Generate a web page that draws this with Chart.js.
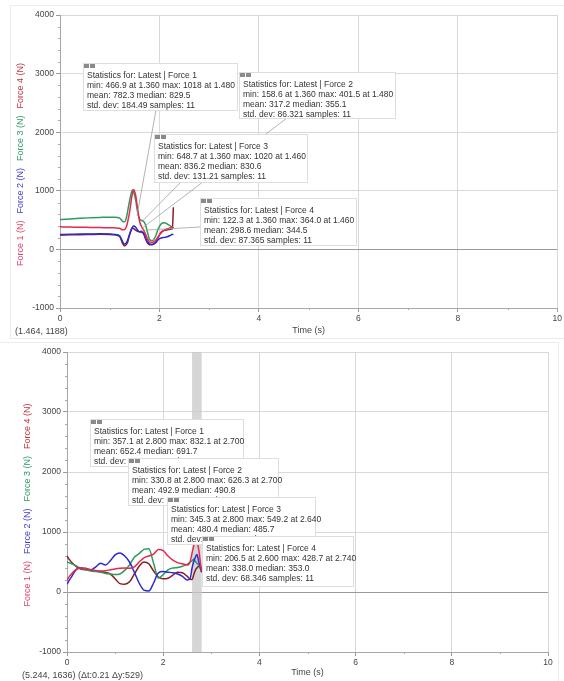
<!DOCTYPE html>
<html>
<head>
<meta charset="utf-8">
<script src="https://cdn.jsdelivr.net/npm/chart.js@4.4.1/dist/chart.umd.min.js"></script>
<style>
  body { margin: 0; background: #fff; }
  #wrap { position: relative; width: 564px; height: 681px; overflow: hidden; }
  .frame { position: absolute; box-sizing: border-box; }
  #f1 { left: 10px; top: 5px; width: 560px; height: 334px; border: 1px solid #ececec; }
  #f2 { left: -5px; top: 342px; width: 564px; height: 345px; border: 1px solid #ececec; }
  canvas { position: absolute; left: 0; }
  #run1 { top: 0; }
  #run2 { top: 340px; }
</style>
</head>
<body>
<div id="wrap">
  <div class="frame" id="f1"></div>
  <div class="frame" id="f2"></div>
  <canvas id="run1" width="564" height="340"></canvas>
  <canvas id="run2" width="564" height="341"></canvas>
</div>
<script>
'use strict';

// series
var seriesNames = ['Force 1', 'Force 2', 'Force 3', 'Force 4'];
var seriesColors = ['#e8284f', '#2a2ad6', '#2e9a5c', '#8c1c24'];
var titleColors = ['#e0406a', '#3b3bd0', '#2f9a6a', '#c4303a'];

// first run (top graph)
var run1Time = [0, 0.2, 0.4, 0.6, 0.8, 1.0, 1.1, 1.2, 1.26, 1.3, 1.34, 1.36, 1.4, 1.44, 1.46, 1.48, 1.52,
  1.56, 1.6, 1.64, 1.68, 1.72, 1.76, 1.8, 1.86, 1.92, 1.98, 2.04, 2.1, 2.16, 2.22, 2.26, 2.28];
var run1Force1 = [385, 382, 378, 375, 372, 370, 368, 360, 335, 340, 400, 467, 640, 880, 960, 1018, 930,
  700, 480, 390, 330, 260, 180, 130, 120, 150, 220, 290, 330, 355, 370, 378, 362];
var run1Force2 = [255, 258, 262, 262, 265, 262, 255, 230, 130, 90, 120, 159, 260, 350, 385, 401, 380,
  330, 300, 300, 280, 200, 130, 95, 85, 110, 170, 195, 205, 215, 240, 258, 250];
var run1Force3 = [510, 520, 530, 538, 545, 550, 550, 535, 480, 470, 560, 649, 830, 980, 1020, 990, 850,
  640, 520, 495, 480, 420, 290, 170, 150, 220, 360, 440, 455, 430, 400, 380, 360];
var run1Force4 = [245, 248, 252, 255, 258, 255, 248, 220, 100, 60, 90, 122, 250, 345, 364, 355, 330,
  310, 300, 295, 270, 180, 110, 80, 85, 120, 220, 300, 325, 335, 345, 350, 720];

// second run (bottom graph)
var run2Time = [0, 0.05, 0.1, 0.2, 0.3, 0.4, 0.5, 0.6, 0.7, 0.8, 0.9, 1.0, 1.1, 1.2, 1.3, 1.4, 1.5, 1.6,
  1.7, 1.8, 1.9, 2.0, 2.1, 2.2, 2.3, 2.4, 2.5, 2.56, 2.6, 2.64, 2.68, 2.7, 2.74, 2.78, 2.8];
var run2Force1 = [200, 260, 310, 380, 400, 390, 370, 360, 350, 355, 370, 385, 395, 400, 395, 420, 500, 570,
  600, 630, 710, 690, 600, 530, 490, 470, 450, 500, 650, 780, 820, 832, 700, 450, 357];
var run2Force2 = [130, 200, 260, 380, 400, 390, 370, 420, 480, 450, 520, 620, 650, 600, 500, 330, 150, 30,
  15, 150, 320, 340, 330, 320, 300, 260, 200, 220, 400, 520, 600, 626, 500, 400, 331];
var run2Force3 = [500, 485, 470, 430, 390, 370, 350, 340, 330, 310, 300, 290, 300, 360, 450, 580, 640, 710,
  720, 480, 230, 290, 370, 400, 410, 430, 460, 500, 520, 549, 500, 480, 450, 380, 345];
var run2Force4 = [600, 540, 490, 420, 380, 370, 360, 350, 340, 325, 300, 220, 140, 130, 170, 300, 430, 500,
  470, 350, 250, 220, 230, 280, 330, 320, 260, 215, 207, 300, 380, 400, 429, 380, 330];
var run2Selection = [2.6, 2.8];

// axes
var timeRange = [0, 10];
var timeStep = 2;
var forceRange = [-1000, 4000];
var forceStep = 1000;

// statistics text
var run1Stats = [
  ['Statistics for: Latest | Force 1', 'min: 466.9 at 1.360 max: 1018 at 1.480', 'mean: 782.3 median: 829.5', 'std. dev: 184.49 samples: 11'],
  ['Statistics for: Latest | Force 2', 'min: 158.6 at 1.360 max: 401.5 at 1.480', 'mean: 317.2 median: 355.1', 'std. dev: 86.321 samples: 11'],
  ['Statistics for: Latest | Force 3', 'min: 648.7 at 1.360 max: 1020 at 1.460', 'mean: 836.2 median: 830.6', 'std. dev: 131.21 samples: 11'],
  ['Statistics for: Latest | Force 4', 'min: 122.3 at 1.360 max: 364.0 at 1.460', 'mean: 298.6 median: 344.5', 'std. dev: 87.365 samples: 11']
];
var run2Stats = [
  ['Statistics for: Latest | Force 1', 'min: 357.1 at 2.800 max: 832.1 at 2.700', 'mean: 652.4 median: 691.7', 'std. dev: 155.32 samples: 11'],
  ['Statistics for: Latest | Force 2', 'min: 330.8 at 2.800 max: 626.3 at 2.700', 'mean: 492.9 median: 490.8', 'std. dev: 98.127 samples: 11'],
  ['Statistics for: Latest | Force 3', 'min: 345.3 at 2.800 max: 549.2 at 2.640', 'mean: 480.4 median: 485.7', 'std. dev: 66.904 samples: 11'],
  ['Statistics for: Latest | Force 4', 'min: 206.5 at 2.600 max: 428.7 at 2.740', 'mean: 338.0 median: 353.0', 'std. dev: 68.346 samples: 11']
];
// where each leader line points (time, force)
var run1LeaderTime = [1.55, 1.67, 1.67, 1.61];
var run1LeaderForce = [580, 375, 494, 324];

var fontFamily = '"Liberation Sans", Arial, sans-serif';
Chart.defaults.font.family = fontFamily;
Chart.defaults.color = '#444';

function points(time, values) {
  return time.map(function (t, i) { return {x: t, y: values[i]}; });
}

function datasets(time, list) {
  return list.map(function (values, i) {
    return {
      label: seriesNames[i],
      data: points(time, values),
      borderColor: seriesColors[i],
      borderWidth: 1.5,
      pointRadius: 0,
      fill: false,
      cubicInterpolationMode: 'monotone'
    };
  });
}

function plain(v) { return String(v); }

function scales(yWidth, xHeight) {
  return {
    x: {
      type: 'linear', min: timeRange[0], max: timeRange[1],
      ticks: {stepSize: timeStep, padding: 2, maxRotation: 0, font: {size: 8.5}, color: '#444', callback: plain},
      grid: {color: '#d9d9d9', tickColor: '#999', tickLength: 4},
      border: {color: '#a8a8a8'},
      afterFit: function (s) { s.height = xHeight; }
    },
    y: {
      type: 'linear', min: forceRange[0], max: forceRange[1],
      ticks: {stepSize: forceStep, padding: 2, font: {size: 8.5}, color: '#444', callback: plain},
      grid: {
        color: function (c) { return c.tick && c.tick.value === 0 ? '#9a9a9a' : '#d9d9d9'; },
        tickColor: '#999', tickLength: 4
      },
      border: {color: '#a8a8a8'},
      afterFit: function (s) { s.width = yWidth; }
    }
  };
}

// extra drawing: minor ticks, axis titles, selection band, stats boxes
function decor(cfg) {
  return {
    id: 'decor',
    beforeDatasetsDraw: function (chart) {
      var ctx = chart.ctx, a = chart.chartArea, sx = chart.scales.x, sy = chart.scales.y;
      ctx.save();
      if (cfg.band) {
        var b0 = sx.getPixelForValue(cfg.band[0]), b1 = sx.getPixelForValue(cfg.band[1]);
        ctx.fillStyle = 'rgba(200,200,200,0.75)';
        ctx.fillRect(b0, a.top, b1 - b0, a.bottom - a.top);
      }
      ctx.strokeStyle = '#aaa';
      ctx.lineWidth = 1;
      ctx.beginPath();
      for (var v = forceRange[0]; v <= forceRange[1]; v += 200) {
        if (v % forceStep === 0) continue;
        var py = Math.round(sy.getPixelForValue(v)) + 0.5;
        ctx.moveTo(a.left - 2, py); ctx.lineTo(a.left, py);
      }
      for (var t = timeRange[0] + 1; t < timeRange[1]; t += 2) {
        var px = Math.round(sx.getPixelForValue(t)) + 0.5;
        ctx.moveTo(px, a.bottom); ctx.lineTo(px, a.bottom + 2);
      }
      ctx.stroke();
      ctx.restore();
    },
    afterDatasetsDraw: function (chart) {
      var ctx = chart.ctx, a = chart.chartArea, sx = chart.scales.x, sy = chart.scales.y;
      ctx.save();
      ctx.font = '9px ' + fontFamily;
      ctx.textBaseline = 'middle';

      // stacked y titles, read bottom to top
      var labels = seriesNames.map(function (n) { return n + ' (N)'; });
      var widths = labels.map(function (l) { return ctx.measureText(l).width; });
      var gap = 7;
      var total = widths.reduce(function (s, w) { return s + w; }, 0) + gap * 3;
      ctx.save();
      ctx.translate(cfg.titleX, (a.top + a.bottom) / 2 + 3);
      ctx.rotate(-Math.PI / 2);
      var pos = -total / 2;
      labels.forEach(function (l, i) {
        ctx.fillStyle = titleColors[i];
        ctx.fillText(l, pos, 0);
        pos += widths[i] + gap;
      });
      ctx.restore();

      ctx.fillStyle = '#444';
      ctx.textAlign = 'center';
      ctx.fillText('Time (s)', (a.left + a.right) / 2, a.bottom + cfg.titleGap);
      ctx.textAlign = 'left';
      ctx.fillText(cfg.corner, cfg.cornerX, cfg.cornerY);

      // leader lines
      ctx.strokeStyle = '#a0a0a0';
      ctx.lineWidth = 0.8;
      (cfg.leaders || []).forEach(function (ld, i) {
        var bx = cfg.boxes[i];
        ctx.beginPath();
        ctx.moveTo(bx.x + ld.dx, bx.y + ld.dy);
        ctx.lineTo(sx.getPixelForValue(ld.t), sy.getPixelForValue(ld.v));
        ctx.stroke();
      });

      // stats boxes
      ctx.font = '8.5px ' + fontFamily;
      cfg.boxes.forEach(function (bx, i) {
        ctx.fillStyle = '#fff';
        ctx.fillRect(bx.x, bx.y, bx.w, bx.h);
        ctx.strokeStyle = '#dedede';
        ctx.lineWidth = 1;
        ctx.strokeRect(bx.x + 0.5, bx.y + 0.5, bx.w, bx.h);
        ctx.fillStyle = '#8a8a8a';
        ctx.fillRect(bx.x + 1, bx.y + 1, 5, 4);
        ctx.fillRect(bx.x + 7, bx.y + 1, 5, 4);
        ctx.fillStyle = '#333';
        cfg.stats[i].forEach(function (line, k) {
          ctx.fillText(line, bx.x + 4, bx.y + 13 + k * 10);
        });
      });
      ctx.restore();
    }
  };
}

var run1Boxes = [
  {x: 83, y: 63, w: 154, h: 47},
  {x: 239, y: 72, w: 156, h: 46},
  {x: 154, y: 134, w: 153, h: 48},
  {x: 200, y: 198, w: 156, h: 47}
];
var run1Leaders = [
  {dx: 73, dy: 47}, {dx: 48, dy: 46}, {dx: 27, dy: 48}, {dx: 0, dy: 29}
].map(function (d, i) { d.t = run1LeaderTime[i]; d.v = run1LeaderForce[i]; return d; });

var run2Boxes = [
  {x: 90, y: 79, w: 153, h: 47},
  {x: 128, y: 118, w: 150, h: 47},
  {x: 167, y: 157, w: 148, h: 47},
  {x: 202, y: 196, w: 151, h: 50}
];

new Chart(document.getElementById('run1').getContext('2d'), {
  type: 'line',
  data: {datasets: datasets(run1Time, [run1Force1, run1Force2, run1Force3, run1Force4])},
  options: {
    responsive: false, animation: false, devicePixelRatio: 1,
    layout: {padding: {left: 0, right: 6, top: 15, bottom: 0}},
    plugins: {legend: {display: false}, tooltip: {enabled: false}},
    scales: scales(60, 32)
  },
  plugins: [decor({
    titleX: 21, titleGap: 23, corner: '(1.464, 1188)', cornerX: 15, cornerY: 332,
    boxes: run1Boxes, stats: run1Stats, leaders: run1Leaders
  })]
});

new Chart(document.getElementById('run2').getContext('2d'), {
  type: 'line',
  data: {datasets: datasets(run2Time, [run2Force1, run2Force2, run2Force3, run2Force4])},
  options: {
    responsive: false, animation: false, devicePixelRatio: 1,
    layout: {padding: {left: 0, right: 16, top: 12, bottom: 0}},
    plugins: {legend: {display: false}, tooltip: {enabled: false}},
    scales: scales(67, 29)
  },
  plugins: [decor({
    titleX: 28, titleGap: 21, corner: '(5.244, 1636) (\u0394t:0.21 \u0394y:529)', cornerX: 22, cornerY: 336,
    band: run2Selection, boxes: run2Boxes, stats: run2Stats
  })]
});
</script>
</body>
</html>
